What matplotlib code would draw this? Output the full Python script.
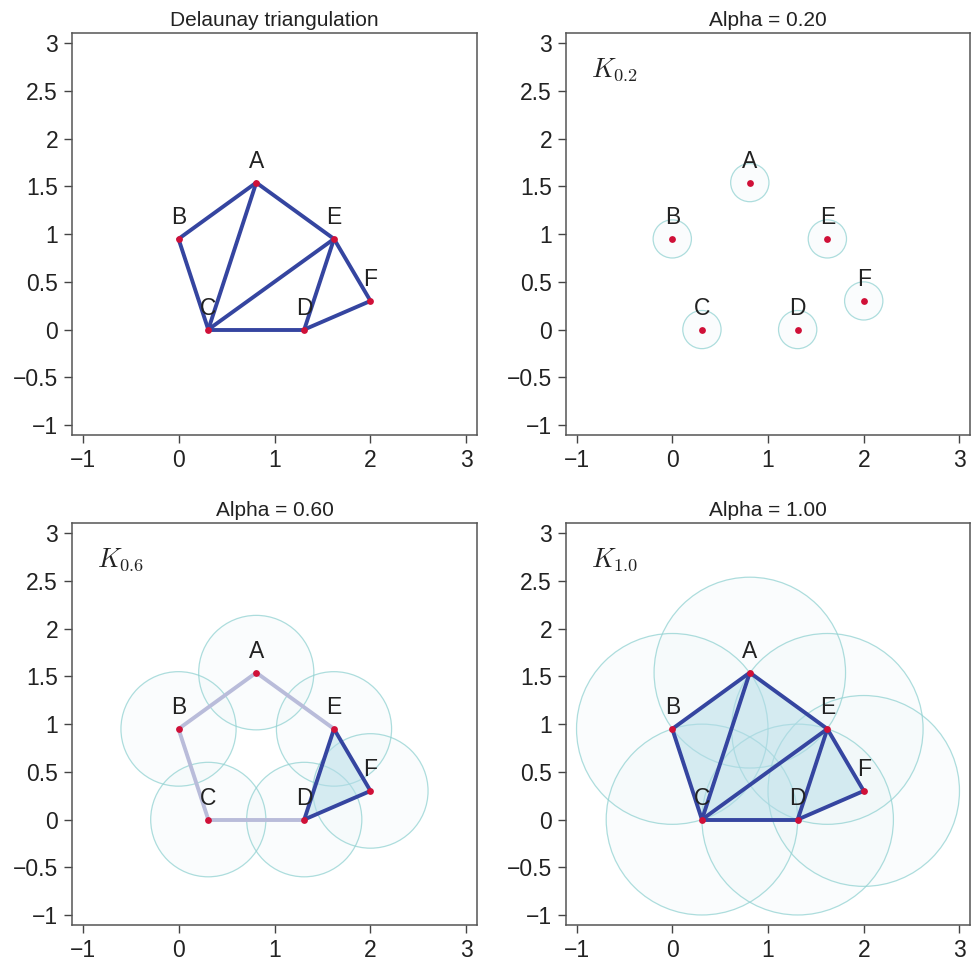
"""
Delaunay triangulation of six points and the alpha complexes K_0.2, K_0.6, K_1.0.
"""

import numpy as np
import matplotlib
matplotlib.use("Agg")
import matplotlib.pyplot as plt
from matplotlib.patches import Circle, Polygon
from matplotlib.ticker import FuncFormatter

plt.rcParams["font.family"] = ["Liberation Sans", "DejaVu Sans"]
plt.rcParams["mathtext.fontset"] = "cm"

# ---- point set -------------------------------------------------
names = ["A", "B", "C", "D", "E", "F"]
xs = [0.81, 0.00, 0.31, 1.31, 1.62, 2.00]
ys = [1.54, 0.95, 0.00, 0.00, 0.95, 0.30]

# Delaunay triangles (indices into names)
delaunay_tris = [(0, 1, 2), (0, 2, 4), (2, 3, 4), (3, 4, 5)]

# alpha complexes: radius, edges without a triangle, triangles
alphas = [0.2, 0.6, 1.0]
complex_edges = {
    0.2: [],
    0.6: [(0, 1), (1, 2), (2, 3), (0, 4)],
    1.0: [],
}
complex_tris = {
    0.2: [],
    0.6: [(3, 4, 5)],
    1.0: [(0, 1, 2), (0, 2, 4), (2, 3, 4), (3, 4, 5)],
}

LINE = "#3545a0"
LIGHT = "#b9bcda"
DOT = "#d01038"
CIRC_EDGE = "#92d2d2"
CIRC_FACE = "#8cc4cc"
TRI_FACE = "#b5dde9"

W, H = 971, 967
boxes = [  # left, top, right, bottom in pixels
    (72, 33, 477, 435),
    (566, 33, 970, 435),
    (72, 523, 477, 925),
    (566, 523, 970, 925),
]

fmt = FuncFormatter(lambda v, p: f"{v:g}".replace("-", "\u2212"))


def make_ax(fig, box):
    l, t, r, b = box
    ax = fig.add_axes([l / W, 1 - b / H, (r - l) / W, (b - t) / H])
    ax.set_xlim(-1.11, 3.11)
    ax.set_ylim(-1.105, 3.108)
    ax.set_xticks([-1, 0, 1, 2, 3])
    ax.set_yticks([-1, -0.5, 0, 0.5, 1, 1.5, 2, 2.5, 3])
    ax.xaxis.set_major_formatter(fmt)
    ax.yaxis.set_major_formatter(fmt)
    ax.tick_params(labelsize=16.5, length=6, width=1, color="#444444",
                   labelcolor="#222222", pad=4)
    for s in ax.spines.values():
        s.set_color("#555555")
        s.set_linewidth(1.1)
    return ax


def edges_of(tris):
    out = set()
    for a, b, c in tris:
        for e in ((a, b), (b, c), (a, c)):
            out.add(tuple(sorted(e)))
    return sorted(out)


def draw_points(ax):
    ax.scatter(xs, ys, s=24, color=DOT, zorder=6, linewidths=0)
    for n, x, y in zip(names, xs, ys):
        ax.text(x, y + 0.10, n, ha="center", va="bottom", fontsize=16.5,
                color="#222222", zorder=7)


def draw_edges(ax, edges, color, lw=2.8, z=4):
    for i, j in edges:
        ax.plot([xs[i], xs[j]], [ys[i], ys[j]], color=color, lw=lw,
                solid_capstyle="round", zorder=z)


fig = plt.figure(figsize=(W / 100, H / 100), dpi=100)

# Delaunay panel
ax = make_ax(fig, boxes[0])
ax.set_title("Delaunay triangulation", fontsize=15, pad=5, color="#222222")
draw_edges(ax, edges_of(delaunay_tris), LINE)
draw_points(ax)

# alpha complex panels
for a, box in zip(alphas, boxes[1:]):
    ax = make_ax(fig, box)
    ax.set_title(f"Alpha = {a:.2f}", fontsize=15, pad=5, color="#222222")
    for x, y in zip(xs, ys):
        ax.add_patch(Circle((x, y), a, facecolor=CIRC_FACE, alpha=0.035,
                            edgecolor="none", zorder=1))
        ax.add_patch(Circle((x, y), a, facecolor="none", edgecolor=CIRC_EDGE,
                            lw=0.9, alpha=0.75, zorder=2))
    for tri in complex_tris[a]:
        pts = np.array([[xs[k], ys[k]] for k in tri])
        ax.add_patch(Polygon(pts, closed=True, facecolor=TRI_FACE, alpha=0.5,
                             edgecolor="none", zorder=3))
    draw_edges(ax, complex_edges[a], LIGHT, z=3.5)
    draw_edges(ax, edges_of(complex_tris[a]), LINE)
    draw_points(ax)
    ax.text(-0.85, 2.72, f"$K_{{{a:.1f}}}$", fontsize=19, ha="left",
            va="center", color="#222222")

fig.savefig("out.png", dpi=100)
